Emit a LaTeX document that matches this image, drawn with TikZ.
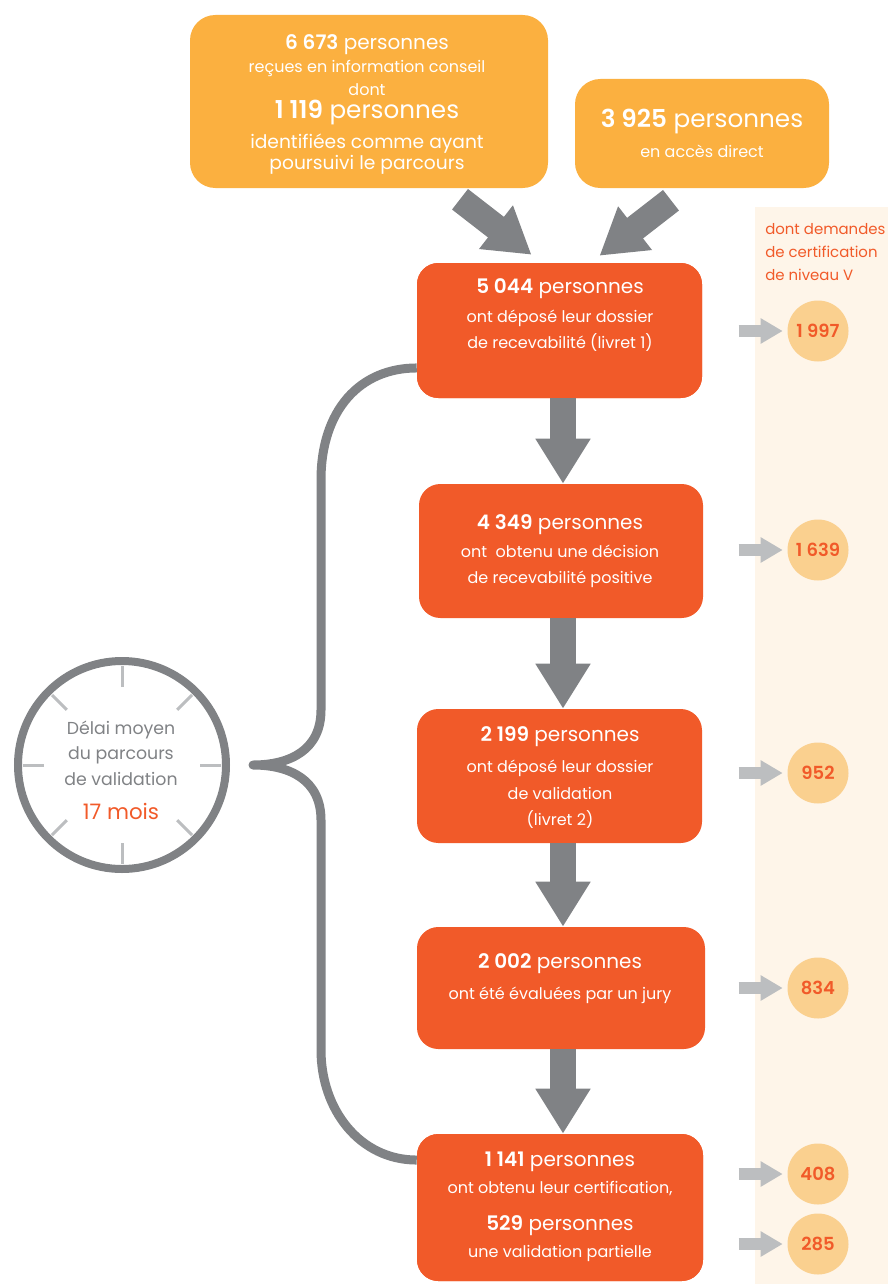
\documentclass[tikz,border=0pt]{standalone}
\usepackage{fontspec}
\setmainfont{Poppins}[BoldFont={Poppins SemiBold}]
\usetikzlibrary{arrows.meta}

\definecolor{boxyellow}{HTML}{FBB040}
\definecolor{boxorange}{HTML}{F15A29}
\definecolor{arrowgray}{HTML}{808285}
\definecolor{tickgray}{HTML}{BCBEC0}
\definecolor{panelbeige}{HTML}{FEF5E9}
\definecolor{circlefill}{HTML}{FAD08F}

\newcommand{\fhead}{\fontsize{15}{18}\selectfont}
\newcommand{\fbody}{\fontsize{12}{14}\selectfont}
\newcommand{\fbig}{\fontsize{18.5}{22}\selectfont}
\newcommand{\fmid}{\fontsize{14}{17}\selectfont}
\newcommand{\fside}{\fontsize{11.2}{14}\selectfont}
\newcommand{\fclock}{\fontsize{13}{16}\selectfont}
\newcommand{\fmonth}{\fontsize{16}{19}\selectfont}

\begin{document}
\begin{tikzpicture}[x=0.75pt, y=-0.75pt,
	ybox/.style={rectangle, fill=boxyellow, rounded corners=19pt},
	obox/.style={rectangle, fill=boxorange, rounded corners=16pt},
	txt/.style={inner sep=0pt, text height=1.2em, text depth=0.2em, text=white},
	num/.style={circle, fill=circlefill, minimum size=45.75pt, inner sep=0pt, text=boxorange, font=\fontsize{13.5}{16}\selectfont\bfseries},
	bigarrow/.style={arrowgray, line width=19.5pt, -{Triangle[width=39pt, length=33.75pt]}},
	sidearrow/.style={tickgray, line width=9pt, -{Triangle[width=18pt, length=16.5pt]}},
	brace/.style={arrowgray, line width=6.75pt, line join=round},
	tick/.style={tickgray, line width=2.25pt},
]
	\useasboundingbox (0,0) rectangle (888,1284);
	\fill[panelbeige] (755,207) rectangle (888,1284);

	% top boxes
	\node[ybox, minimum width=268.5pt, minimum height=129.75pt] (boxa) at (369,101.5) {};
	\node[txt, font=\fhead] at (367,43) {\textbf{6 673} personnes};
	\node[txt, font=\fbody] at (367,66) {reçues en information conseil};
	\node[txt, font=\fbody] at (367,89) {dont};
	\node[txt, font=\fbig] at (367,112) {\textbf{1 119} personnes};
	\node[txt, font=\fmid] at (367,142) {identifiées comme ayant};
	\node[txt, font=\fmid] at (367,163) {poursuivi le parcours};

	\node[ybox, minimum width=190.5pt, minimum height=81.75pt] (boxb) at (702,133.5) {};
	\node[txt, font=\fbig] at (702,121) {\textbf{3 925} personnes};
	\node[txt, font=\fbody] at (702,151) {en accès direct};

	% brace and clock
	\node[obox, minimum width=213.75pt, minimum height=101.25pt] (o1) at (559.5,330.5) {};
	\node[obox, minimum width=214.5pt, minimum height=110.25pt] (o5) at (560,1207.5) {};
	\draw[brace] ([yshift=-28.1pt]o1.west) .. controls (360,368) and (321,410) .. (321,480)
		-- (321,710) .. controls (321,750) and (290,765) .. (253,765)
		.. controls (290,765) and (321,780) .. (321,820)
		-- (321,1050) .. controls (321,1110) and (360,1160) .. ([yshift=35.6pt]o5.west);
	\node[obox, minimum width=213.75pt, minimum height=101.25pt] at (559.5,330.5) {};
	\node[obox, minimum width=214.5pt, minimum height=110.25pt] at (560,1207.5) {};

	\node[circle, draw=arrowgray, line width=6pt, minimum size=156pt, inner sep=0pt] (clock) at (122,765) {};
	\foreach \a in {0,45,...,315}
		\draw[tick] ([shift={(\a:78)}]clock.center) -- ([shift={(\a:99)}]clock.center);
	\node[txt, text=arrowgray, font=\fclock] at (121,728) {Délai moyen};
	\node[txt, text=arrowgray, font=\fclock] at (121,753) {du parcours};
	\node[txt, text=arrowgray, font=\fclock] at (121,779) {de validation};
	\node[txt, text=boxorange, font=\fmonth] at (121,813) {17 mois};

	% orange boxes
	\node[txt, font=\fhead] at (560,287) {\textbf{5 044} personnes};
	\node[txt, font=\fbody] at (560,316) {ont déposé leur dossier};
	\node[txt, font=\fbody] at (560,342) {de recevabilité (livret 1)};

	\node[obox, minimum width=213pt, minimum height=100.5pt] (o2) at (561,551) {};
	\node[txt, font=\fhead] at (560,523) {\textbf{4 349} personnes};
	\node[txt, font=\fbody] at (560,551) {ont~~obtenu une décision};
	\node[txt, font=\fbody] at (560,577) {de recevabilité positive};

	\node[obox, minimum width=213.75pt, minimum height=100.5pt] (o3) at (559.5,776) {};
	\node[txt, font=\fhead] at (560,735) {\textbf{2 199} personnes};
	\node[txt, font=\fbody] at (560,766) {ont déposé leur dossier};
	\node[txt, font=\fbody] at (560,793) {de validation};
	\node[txt, font=\fbody] at (560,819) {(livret 2)};

	\node[obox, minimum width=216pt, minimum height=91.5pt] (o4) at (561,988) {};
	\node[txt, font=\fhead] at (560,962) {\textbf{2 002} personnes};
	\node[txt, font=\fbody] at (560,993) {ont été évaluées par un jury};

	\node[txt, font=\fhead] at (560,1160) {\textbf{1 141} personnes};
	\node[txt, font=\fbody] at (560,1187) {ont obtenu leur certification,};
	\node[txt, font=\fhead] at (560,1224) {\textbf{529} personnes};
	\node[txt, font=\fbody] at (560,1251) {une validation partielle};

	% arrows
	\coordinate (mid) at (563,0);
	\draw[bigarrow] ([shift={(91,11)}]boxa.south) -- ([shift={(-28,-8)}]o1.north);
	\draw[bigarrow] ([shift={(-31,12)}]boxb.south) -- ([shift={(40,-7)}]o1.north);
	\draw[bigarrow] (o1.south -| mid) -- (o2.north -| mid);
	\draw[bigarrow] (o2.south -| mid) -- (o3.north -| mid);
	\draw[bigarrow] (o3.south -| mid) -- (o4.north -| mid);
	\draw[bigarrow] (o4.south -| mid) -- (o5.north -| mid);

	% side column
	\node[txt, anchor=west, text=boxorange, font=\fside] at (765,228) {dont demandes};
	\node[txt, anchor=west, text=boxorange, font=\fside] at (765,251) {de certification};
	\node[txt, anchor=west, text=boxorange, font=\fside] at (765,274) {de niveau V};

	\node[num] (c1) at (818,331) {1 997};
	\node[num] (c2) at (818,550) {1 639};
	\node[num] (c3) at (818,773) {952};
	\node[num] (c4) at (818,988) {834};
	\node[num] (c5) at (818,1174) {408};
	\node[num] (c6) at (818,1244) {285};
	\foreach \c in {c1,c2,c3,c4,c5,c6}
		\draw[sidearrow] ([xshift=-36.4pt]\c.west) -- ([xshift=-3.4pt]\c.west);
\end{tikzpicture}
\end{document}
